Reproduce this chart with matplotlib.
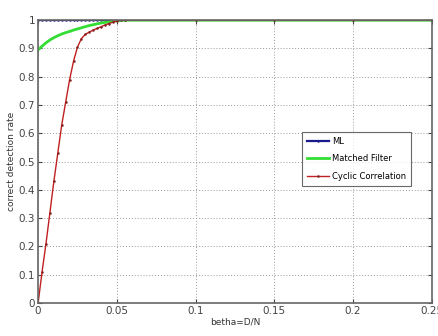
#!usr/bin/env python3

import matplotlib
matplotlib.use("Agg")
import matplotlib.pyplot as plt

# betha = D/N
betha = [0.0, 0.0025, 0.005, 0.0075, 0.01, 0.0125, 0.015, 0.0175, 0.02, 0.0225,
         0.025, 0.0275, 0.03, 0.0325, 0.035, 0.0375, 0.04, 0.0425, 0.045, 0.0475,
         0.05, 0.0525, 0.055, 0.1, 0.15, 0.2, 0.25]

ml = [1.0] * len(betha)

matched = [0.895, 0.908, 0.92, 0.93, 0.938, 0.945, 0.951, 0.956, 0.96, 0.965,
           0.969, 0.973, 0.977, 0.981, 0.984, 0.987, 0.99, 0.992, 0.994, 0.996,
           0.998, 0.999, 1.0, 1.0, 1.0, 1.0, 1.0]

cyclic = [0.0, 0.11, 0.21, 0.32, 0.43, 0.53, 0.63, 0.71, 0.79, 0.855,
          0.905, 0.935, 0.95, 0.958, 0.965, 0.971, 0.977, 0.983, 0.988, 0.993,
          0.997, 1.0, 1.0, 1.0, 1.0, 1.0, 1.0]

plt.rcParams['font.family'] = ['Liberation Sans Narrow', 'DejaVu Sans']

fig = plt.figure(figsize=(4.38, 3.36), dpi=100)
ax = fig.add_axes([0.087, 0.098, 0.899, 0.842])

ax.plot(betha, ml, color="#1a1a8c", lw=1.6, marker='.', ms=1.5, label="ML")
ax.plot(betha, matched, color="#33dd33", lw=2.0, label="Matched Filter")
ax.plot(betha, cyclic, color="#c02020", lw=1.0, marker='.', ms=1.6,
        mec="#802020", mfc="#802020", label="Cyclic Correlation")

ax.set_xlim(0, 0.25)
ax.set_ylim(0, 1)
ax.set_xticks([0, 0.05, 0.1, 0.15, 0.2, 0.25])
ax.set_xticklabels(["0", "0.05", "0.1", "0.15", "0.2", "0.25"])
ax.set_yticks([i / 10 for i in range(11)])
ax.set_yticklabels(["0", "0.1", "0.2", "0.3", "0.4", "0.5", "0.6", "0.7", "0.8", "0.9", "1"])
ax.tick_params(direction='in', length=3, labelsize=7.5, colors="#444444",
               right=True, top=True, pad=2)
ax.grid(True, linestyle=(0, (1, 2)), color="#999999", lw=0.7)
for s in ax.spines.values():
    s.set_color("#666666")
    s.set_linewidth(1.2)

ax.set_xlabel("betha=D/N", fontsize=6.5, color="#333333", labelpad=1)
ax.set_ylabel("correct detection rate", fontsize=6.5, color="#333333", labelpad=2)

leg = ax.legend(loc="upper left", bbox_to_anchor=(0.67, 0.605), fontsize=6,
                frameon=True, fancybox=False, edgecolor="#444444",
                handlelength=2.6, handletextpad=0.4, borderpad=0.6,
                labelspacing=1.0, borderaxespad=0)
leg.get_frame().set_linewidth(0.8)

plt.savefig("out.png", dpi=100)
plt.close()
